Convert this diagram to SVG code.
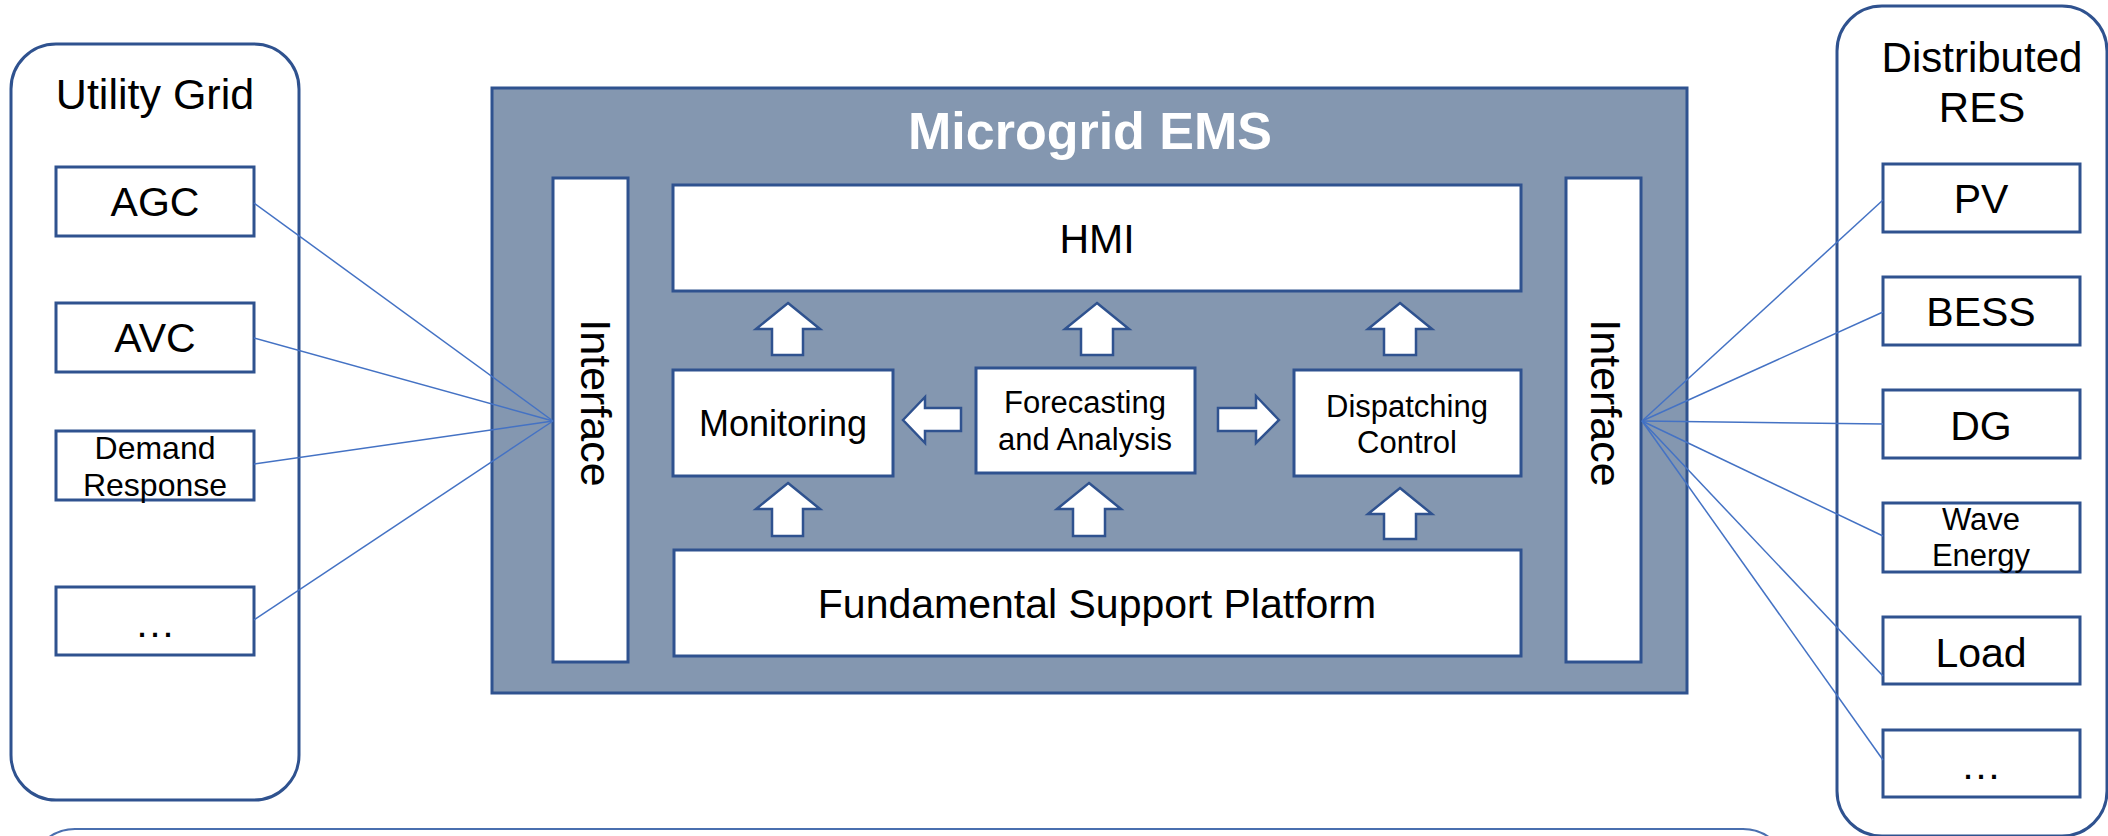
<svg xmlns="http://www.w3.org/2000/svg" width="2108" height="836" viewBox="0 0 2108 836">
<style>
.cont{fill:#fff;stroke:#2F528F;stroke-width:3}
.box{fill:#fff;stroke:#2F528F;stroke-width:3}
.arr{fill:#fff;stroke:#2F528F;stroke-width:2.5;stroke-linejoin:miter}
.t{font-family:"Liberation Sans",Arial,sans-serif;fill:#000;text-anchor:middle}
.conn{stroke:#4472C4;stroke-width:1.5;fill:none}
</style>
<rect width="2108" height="836" fill="#fff"/>
<g id="bottom-container">
<rect x="30" y="829" width="1758" height="120" rx="45" ry="45" fill="#fff" stroke="#4A6FAF" stroke-width="2"/>
</g>
<g id="utility-grid">
<rect class="cont" x="11" y="44" width="288" height="756" rx="45" ry="45"/>
<text class="t" x="155" y="109" font-size="43">Utility Grid</text>
</g>
<g id="agc"><rect class="box" x="56" y="167" width="198" height="69"/><text class="t" x="155" y="216" font-size="41">AGC</text></g>
<g id="avc"><rect class="box" x="56" y="303" width="198" height="69"/><text class="t" x="155" y="352" font-size="41">AVC</text></g>
<g id="demand-response"><rect class="box" x="56" y="431" width="198" height="69"/><text class="t" x="155" y="459" font-size="32">Demand</text><text class="t" x="155" y="496" font-size="32">Response</text></g>
<g id="grid-more"><rect class="box" x="56" y="587" width="198" height="68"/><text class="t" x="155" y="637" font-size="41">…</text></g>
<g id="distributed-res">
<rect class="cont" x="1837" y="6" width="270" height="830" rx="45" ry="45"/>
<text class="t" x="1982" y="72" font-size="42">Distributed</text>
<text class="t" x="1982" y="122" font-size="42">RES</text>
</g>
<g id="pv"><rect class="box" x="1883" y="164" width="197" height="68"/><text class="t" x="1981" y="213" font-size="41">PV</text></g>
<g id="bess"><rect class="box" x="1883" y="277" width="197" height="68"/><text class="t" x="1981" y="326" font-size="41">BESS</text></g>
<g id="dg"><rect class="box" x="1883" y="390" width="197" height="68"/><text class="t" x="1981" y="440" font-size="41">DG</text></g>
<g id="wave-energy"><rect class="box" x="1883" y="503" width="197" height="69"/><text class="t" x="1981" y="530" font-size="31">Wave</text><text class="t" x="1981" y="566" font-size="31">Energy</text></g>
<g id="load"><rect class="box" x="1883" y="617" width="197" height="67"/><text class="t" x="1981" y="667" font-size="41">Load</text></g>
<g id="res-more"><rect class="box" x="1883" y="730" width="197" height="67"/><text class="t" x="1981" y="779" font-size="41">…</text></g>
<g id="microgrid-ems">
<rect x="492" y="88" width="1195" height="605" fill="#8497B0" stroke="#2F528F" stroke-width="3"/>
<text class="t" x="1090" y="149" font-size="52" font-weight="bold" style="fill:#fff">Microgrid EMS</text>
</g>
<g id="interface-left"><rect class="box" x="553" y="178" width="75" height="484"/><text class="t" font-size="43" transform="translate(581,403) rotate(90)">Interface</text></g>
<g id="interface-right"><rect class="box" x="1566" y="178" width="75" height="484"/><text class="t" font-size="43" transform="translate(1591,403) rotate(90)">Interface</text></g>
<g id="hmi"><rect class="box" x="673" y="185" width="848" height="106"/><text class="t" x="1097" y="253" font-size="41">HMI</text></g>
<g id="monitoring"><rect class="box" x="673" y="370" width="220" height="106"/><text class="t" x="783" y="436" font-size="36">Monitoring</text></g>
<g id="forecasting"><rect class="box" x="976" y="368" width="219" height="105"/><text class="t" x="1085" y="413" font-size="31">Forecasting</text><text class="t" x="1085" y="450" font-size="31">and Analysis</text></g>
<g id="dispatching"><rect class="box" x="1294" y="370" width="227" height="106"/><text class="t" x="1407" y="417" font-size="31">Dispatching</text><text class="t" x="1407" y="453" font-size="31">Control</text></g>
<g id="fsp"><rect class="box" x="674" y="550" width="847" height="106"/><text class="t" x="1097" y="618" font-size="41">Fundamental Support Platform</text></g>
<g id="arrows">
<path class="arr" d="M788 303 L820 329 L803 329 L803 355 L772 355 L772 329 L756 329 Z"/>
<path class="arr" d="M1097 303 L1129 329 L1113 329 L1113 355 L1081 355 L1081 329 L1065 329 Z"/>
<path class="arr" d="M1400 303 L1432 329 L1416 329 L1416 355 L1384 355 L1384 329 L1368 329 Z"/>
<path class="arr" d="M788 483 L820 509 L803 509 L803 536 L772 536 L772 509 L756 509 Z"/>
<path class="arr" d="M1089 483 L1121 509 L1105 509 L1105 536 L1073 536 L1073 509 L1057 509 Z"/>
<path class="arr" d="M1400 488 L1432 514 L1416 514 L1416 539 L1384 539 L1384 514 L1368 514 Z"/>
<path class="arr" d="M903 420 L925 397 L925 408 L961 408 L961 431 L925 431 L925 443 Z"/>
<path class="arr" d="M1279 420 L1256 396 L1256 408 L1218 408 L1218 431 L1256 431 L1256 443 Z"/>
</g>
<g id="connectors">
<line class="conn" x1="254" y1="203" x2="553" y2="421"/>
<line class="conn" x1="254" y1="338" x2="553" y2="421"/>
<line class="conn" x1="254" y1="464" x2="553" y2="421"/>
<line class="conn" x1="254" y1="620" x2="553" y2="421"/>
<line class="conn" x1="1642" y1="421" x2="1883" y2="200"/>
<line class="conn" x1="1642" y1="421" x2="1883" y2="312"/>
<line class="conn" x1="1642" y1="421" x2="1883" y2="424"/>
<line class="conn" x1="1642" y1="421" x2="1883" y2="536"/>
<line class="conn" x1="1642" y1="421" x2="1883" y2="676"/>
<line class="conn" x1="1642" y1="421" x2="1883" y2="760"/>
</g>
</svg>
